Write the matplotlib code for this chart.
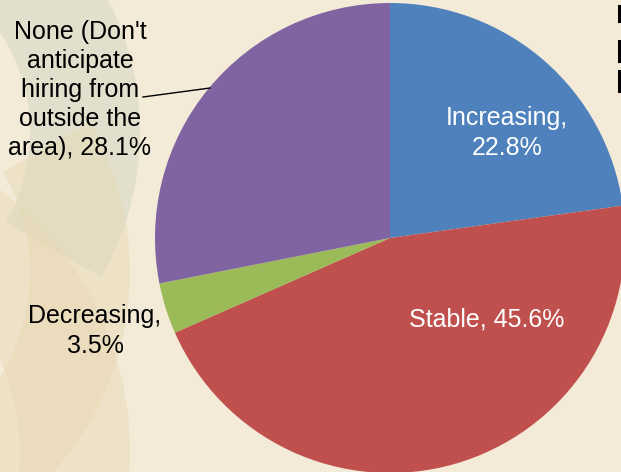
import matplotlib.pyplot as plt
from matplotlib.patches import Wedge, Rectangle

plt.rcParams['font.family'] = ['Liberation Sans', 'DejaVu Sans']

labels = ["Increasing,\n22.8%", "Stable, 45.6%", "Decreasing,\n3.5%",
          "None (Don't\nanticipate\nhiring from\noutside the\narea), 28.1%"]
shares = [22.8, 45.6, 3.5, 28.1]
colors = ['#4F81BD', '#C0504D', '#9BBB59', '#8064A2']

W, H = 621, 472
bg = '#F3EAD8'
fig = plt.figure(figsize=(W / 100, H / 100), dpi=100)
fig.patch.set_facecolor(bg)
ax = fig.add_axes([0, 0, 1, 1])
ax.set_facecolor(bg)

# faint curved bands of the slide background on the left
ax.add_patch(Wedge((-150, 340), 290, -30, 60, width=110, color='#CFD5BF', alpha=0.45, lw=0))
ax.add_patch(Wedge((-170, 200), 300, -60, 30, width=100, color='#E6D8B2', alpha=0.45, lw=0))
ax.add_patch(Wedge((-200, 20), 330, -20, 60, width=110, color='#E6D6AE', alpha=0.4, lw=0))

cx, cy, r = 390, H - 238, 235
ax.pie(shares, colors=colors, startangle=90, counterclock=False,
       center=(cx, cy), radius=r, frame=True,
       wedgeprops=dict(linewidth=0))

fs = 18
ls = 1.27
ax.text(507, H - 133, labels[0], color='white', fontsize=fs, ha='center', va='center',
        linespacing=ls)
ax.text(487, H - 320, labels[1], color='white', fontsize=fs, ha='center', va='center')
ax.text(95, H - 331, labels[2], color='black', fontsize=fs, ha='center', va='center',
        linespacing=ls)
ax.text(80, H - 90, labels[3], color='black', fontsize=fs, ha='center', va='center',
        linespacing=ls)
ax.plot([143, 210], [H - 97, H - 88], color='black', lw=1)

# stems of the title letters cut by the right edge
for y0, y1 in [(5, 23), (40, 63), (70, 93)]:
    ax.add_patch(Rectangle((618, H - y1), 4, y1 - y0, color='black', lw=0))

ax.set_xlim(0, W)
ax.set_ylim(0, H)
ax.set_aspect('equal')
ax.axis('off')
fig.savefig('out.png', dpi=100, facecolor=fig.get_facecolor())
